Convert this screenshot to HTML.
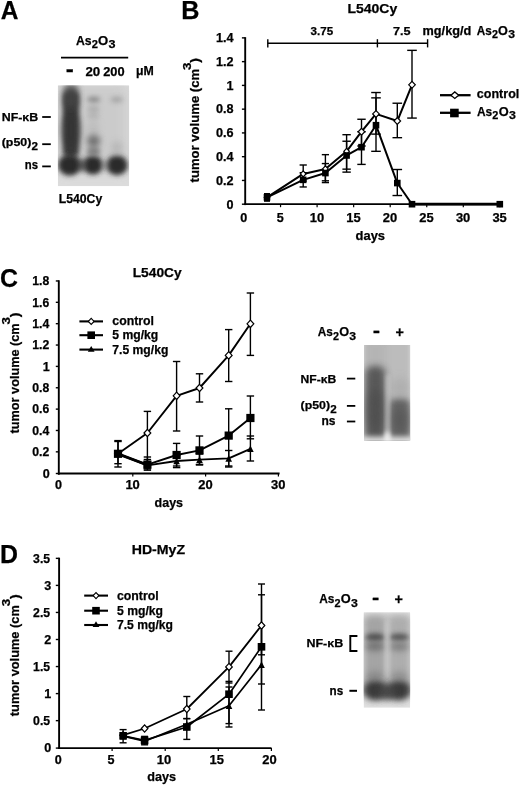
<!DOCTYPE html>
<html lang="en"><head><meta charset="utf-8"><title>Figure</title>
<style>html,body{margin:0;padding:0;background:#fff}svg{display:block;filter:grayscale(1)}text{font-family:"Liberation Sans", Arial, Helvetica, sans-serif;font-weight:bold;fill:#000;stroke:#000;stroke-width:.25px}</style></head><body>
<svg width="520" height="787" viewBox="0 0 520 787">
<rect x="0" y="0" width="520" height="787" fill="#fff"/>
<text x="0.70" y="19.20" font-size="25" text-anchor="start" textLength="17.70" lengthAdjust="spacingAndGlyphs">A</text>
<text x="76.00" y="44.80" font-size="12.5" text-anchor="start" textLength="15.58" lengthAdjust="spacingAndGlyphs">As</text>
<text x="91.68" y="47.60" font-size="11.2" text-anchor="start" textLength="6.21" lengthAdjust="spacingAndGlyphs">2</text>
<text x="98.09" y="44.80" font-size="12.5" text-anchor="start" textLength="10.18" lengthAdjust="spacingAndGlyphs">O</text>
<text x="108.58" y="47.60" font-size="11.2" text-anchor="start" textLength="7.02" lengthAdjust="spacingAndGlyphs">3</text>
<line x1="61.00" y1="57.60" x2="128.20" y2="57.60" stroke="#000" stroke-width="1.8" stroke-linecap="butt"/>
<text x="65.80" y="75.50" font-size="22" text-anchor="start" textLength="8.00" lengthAdjust="spacingAndGlyphs">-</text>
<text x="85.40" y="75.90" font-size="12.5" text-anchor="start" textLength="14.80" lengthAdjust="spacingAndGlyphs">20</text>
<text x="103.20" y="75.90" font-size="12.5" text-anchor="start" textLength="21.40" lengthAdjust="spacingAndGlyphs">200</text>
<text x="136.00" y="75.00" font-size="12.5" text-anchor="start" textLength="17.80" lengthAdjust="spacingAndGlyphs">μM</text>
<clipPath id="gc1"><rect x="57.8" y="85.3" width="71.4" height="101.0"/></clipPath>
<g clip-path="url(#gc1)">
<rect x="57.8" y="85.3" width="71.4" height="101.0" fill="#dcdcdc"/>
<filter id="gf1_0" x="-100%" y="-100%" width="300%" height="300%"><feGaussianBlur stdDeviation="6.0"/></filter>
<rect x="59.5" y="84" width="68" height="88" rx="6" fill="#c6c6c6" opacity="0.75" filter="url(#gf1_0)"/>
<filter id="gf1_1" x="-100%" y="-100%" width="300%" height="300%"><feGaussianBlur stdDeviation="2.8"/></filter>
<rect x="62.7" y="90" width="16.4" height="68" rx="7" fill="#303030" opacity="0.95" filter="url(#gf1_1)"/>
<filter id="gf1_2" x="-100%" y="-100%" width="300%" height="300%"><feGaussianBlur stdDeviation="3.0"/></filter>
<rect x="63.7" y="84" width="14.4" height="24" rx="5" fill="#444" opacity="0.8" filter="url(#gf1_2)"/>
<filter id="gf1_3" x="-100%" y="-100%" width="300%" height="300%"><feGaussianBlur stdDeviation="3.0"/></filter>
<ellipse cx="71.0" cy="130" rx="9.6" ry="18" fill="#333" opacity="0.55" filter="url(#gf1_3)"/>
<filter id="gf1_4" x="-100%" y="-100%" width="300%" height="300%"><feGaussianBlur stdDeviation="2.6"/></filter>
<ellipse cx="69.6" cy="165.0" rx="11.4" ry="10.6" fill="#2a2a2a" opacity="1.0" filter="url(#gf1_4)"/>
<filter id="gf1_5" x="-100%" y="-100%" width="300%" height="300%"><feGaussianBlur stdDeviation="2.6"/></filter>
<ellipse cx="93.0" cy="165.0" rx="9.8" ry="9.6" fill="#2c2c2c" opacity="1.0" filter="url(#gf1_5)"/>
<filter id="gf1_6" x="-100%" y="-100%" width="300%" height="300%"><feGaussianBlur stdDeviation="2.6"/></filter>
<ellipse cx="117.0" cy="165.2" rx="10.6" ry="10.0" fill="#2a2a2a" opacity="1.0" filter="url(#gf1_6)"/>
<filter id="gf1_7" x="-100%" y="-100%" width="300%" height="300%"><feGaussianBlur stdDeviation="2.6"/></filter>
<ellipse cx="82.0" cy="165.2" rx="5" ry="6.0" fill="#3a3a3a" opacity="0.7" filter="url(#gf1_7)"/>
<filter id="gf1_8" x="-100%" y="-100%" width="300%" height="300%"><feGaussianBlur stdDeviation="2.6"/></filter>
<ellipse cx="105.2" cy="165.2" rx="4" ry="4.5" fill="#666" opacity="0.45" filter="url(#gf1_8)"/>
<filter id="gf1_9" x="-100%" y="-100%" width="300%" height="300%"><feGaussianBlur stdDeviation="2.4"/></filter>
<ellipse cx="93.8" cy="99.6" rx="6.6" ry="2.8" fill="#767676" opacity="0.8" filter="url(#gf1_9)"/>
<filter id="gf1_10" x="-100%" y="-100%" width="300%" height="300%"><feGaussianBlur stdDeviation="2.8"/></filter>
<ellipse cx="93.4" cy="109.0" rx="6.2" ry="3.4" fill="#969696" opacity="0.55" filter="url(#gf1_10)"/>
<filter id="gf1_11" x="-100%" y="-100%" width="300%" height="300%"><feGaussianBlur stdDeviation="2.8"/></filter>
<ellipse cx="93.4" cy="116.0" rx="6.2" ry="3.4" fill="#9a9a9a" opacity="0.45" filter="url(#gf1_11)"/>
<filter id="gf1_12" x="-100%" y="-100%" width="300%" height="300%"><feGaussianBlur stdDeviation="3.2"/></filter>
<ellipse cx="93.4" cy="128" rx="6.0" ry="8.0" fill="#b0b0b0" opacity="0.5" filter="url(#gf1_12)"/>
<filter id="gf1_13" x="-100%" y="-100%" width="300%" height="300%"><feGaussianBlur stdDeviation="3.0"/></filter>
<ellipse cx="93.6" cy="141.0" rx="6.8" ry="6.5" fill="#5c5c5c" opacity="0.8" filter="url(#gf1_13)"/>
<filter id="gf1_14" x="-100%" y="-100%" width="300%" height="300%"><feGaussianBlur stdDeviation="2.8"/></filter>
<ellipse cx="93.6" cy="151.5" rx="6.8" ry="5.0" fill="#666" opacity="0.7" filter="url(#gf1_14)"/>
<filter id="gf1_15" x="-100%" y="-100%" width="300%" height="300%"><feGaussianBlur stdDeviation="2.4"/></filter>
<ellipse cx="116.8" cy="99.6" rx="6.2" ry="2.6" fill="#8e8e8e" opacity="0.7" filter="url(#gf1_15)"/>
<filter id="gf1_16" x="-100%" y="-100%" width="300%" height="300%"><feGaussianBlur stdDeviation="3.0"/></filter>
<ellipse cx="117.0" cy="148" rx="5.5" ry="7.0" fill="#a8a8a8" opacity="0.55" filter="url(#gf1_16)"/>
</g>
<text x="1.70" y="120.80" font-size="11.8" text-anchor="start" textLength="36.50" lengthAdjust="spacingAndGlyphs">NF-κB</text>
<line x1="42.20" y1="117.00" x2="50.80" y2="117.00" stroke="#000" stroke-width="1.8" stroke-linecap="butt"/>
<text x="1.70" y="146.20" font-size="11.8" text-anchor="start" textLength="29.60" lengthAdjust="spacingAndGlyphs">(p50)</text>
<text x="31.50" y="149.70" font-size="10.6" text-anchor="start" textLength="6.50" lengthAdjust="spacingAndGlyphs">2</text>
<line x1="42.20" y1="144.20" x2="50.80" y2="144.20" stroke="#000" stroke-width="1.8" stroke-linecap="butt"/>
<text x="24.80" y="169.00" font-size="12.0" text-anchor="start" textLength="13.20" lengthAdjust="spacingAndGlyphs">ns</text>
<line x1="42.20" y1="166.40" x2="50.80" y2="166.40" stroke="#000" stroke-width="1.8" stroke-linecap="butt"/>
<text x="58.70" y="202.50" font-size="12.3" text-anchor="start" textLength="43.50" lengthAdjust="spacingAndGlyphs">L540Cy</text>
<text x="181.20" y="18.60" font-size="25" text-anchor="start" textLength="18.20" lengthAdjust="spacingAndGlyphs">B</text>
<text x="347.40" y="12.90" font-size="13.5" text-anchor="start" textLength="49.80" lengthAdjust="spacingAndGlyphs">L540Cy</text>
<line x1="245.20" y1="37.18" x2="245.20" y2="205.10" stroke="#000" stroke-width="1.9" stroke-linecap="butt"/>
<line x1="244.30" y1="204.20" x2="500.30" y2="204.20" stroke="#000" stroke-width="1.8" stroke-linecap="butt"/>
<line x1="241.90" y1="204.20" x2="245.20" y2="204.20" stroke="#000" stroke-width="1.4" stroke-linecap="butt"/>
<text x="226.60" y="208.50" font-size="12.2" text-anchor="start" textLength="7.00" lengthAdjust="spacingAndGlyphs">0</text>
<line x1="241.90" y1="180.44" x2="245.20" y2="180.44" stroke="#000" stroke-width="1.4" stroke-linecap="butt"/>
<text x="216.00" y="184.74" font-size="12.2" text-anchor="start" textLength="17.60" lengthAdjust="spacingAndGlyphs">0.2</text>
<line x1="241.90" y1="156.68" x2="245.20" y2="156.68" stroke="#000" stroke-width="1.4" stroke-linecap="butt"/>
<text x="216.00" y="160.98" font-size="12.2" text-anchor="start" textLength="17.60" lengthAdjust="spacingAndGlyphs">0.4</text>
<line x1="241.90" y1="132.92" x2="245.20" y2="132.92" stroke="#000" stroke-width="1.4" stroke-linecap="butt"/>
<text x="216.00" y="137.22" font-size="12.2" text-anchor="start" textLength="17.60" lengthAdjust="spacingAndGlyphs">0.6</text>
<line x1="241.90" y1="109.16" x2="245.20" y2="109.16" stroke="#000" stroke-width="1.4" stroke-linecap="butt"/>
<text x="216.00" y="113.46" font-size="12.2" text-anchor="start" textLength="17.60" lengthAdjust="spacingAndGlyphs">0.8</text>
<line x1="241.90" y1="85.40" x2="245.20" y2="85.40" stroke="#000" stroke-width="1.4" stroke-linecap="butt"/>
<text x="226.60" y="89.70" font-size="12.2" text-anchor="start" textLength="7.00" lengthAdjust="spacingAndGlyphs">1</text>
<line x1="241.90" y1="61.64" x2="245.20" y2="61.64" stroke="#000" stroke-width="1.4" stroke-linecap="butt"/>
<text x="216.00" y="65.94" font-size="12.2" text-anchor="start" textLength="17.60" lengthAdjust="spacingAndGlyphs">1.2</text>
<line x1="241.90" y1="37.88" x2="245.20" y2="37.88" stroke="#000" stroke-width="1.4" stroke-linecap="butt"/>
<text x="216.00" y="42.18" font-size="12.2" text-anchor="start" textLength="17.60" lengthAdjust="spacingAndGlyphs">1.4</text>
<text x="240.30" y="221.60" font-size="12.2" text-anchor="start" textLength="7.00" lengthAdjust="spacingAndGlyphs">0</text>
<text x="276.85" y="221.60" font-size="12.2" text-anchor="start" textLength="7.00" lengthAdjust="spacingAndGlyphs">5</text>
<line x1="280.55" y1="204.20" x2="280.55" y2="207.20" stroke="#000" stroke-width="1.2" stroke-linecap="butt"/>
<text x="309.70" y="221.60" font-size="12.2" text-anchor="start" textLength="14.40" lengthAdjust="spacingAndGlyphs">10</text>
<line x1="317.10" y1="204.20" x2="317.10" y2="207.20" stroke="#000" stroke-width="1.2" stroke-linecap="butt"/>
<text x="346.25" y="221.60" font-size="12.2" text-anchor="start" textLength="14.40" lengthAdjust="spacingAndGlyphs">15</text>
<line x1="353.65" y1="204.20" x2="353.65" y2="207.20" stroke="#000" stroke-width="1.2" stroke-linecap="butt"/>
<text x="382.80" y="221.60" font-size="12.2" text-anchor="start" textLength="14.40" lengthAdjust="spacingAndGlyphs">20</text>
<line x1="390.20" y1="204.20" x2="390.20" y2="207.20" stroke="#000" stroke-width="1.2" stroke-linecap="butt"/>
<text x="419.35" y="221.60" font-size="12.2" text-anchor="start" textLength="14.40" lengthAdjust="spacingAndGlyphs">25</text>
<line x1="426.75" y1="204.20" x2="426.75" y2="207.20" stroke="#000" stroke-width="1.2" stroke-linecap="butt"/>
<text x="455.90" y="221.60" font-size="12.2" text-anchor="start" textLength="14.40" lengthAdjust="spacingAndGlyphs">30</text>
<line x1="463.30" y1="204.20" x2="463.30" y2="207.20" stroke="#000" stroke-width="1.2" stroke-linecap="butt"/>
<text x="492.40" y="221.60" font-size="12.2" text-anchor="start" textLength="14.40" lengthAdjust="spacingAndGlyphs">35</text>
<line x1="499.80" y1="204.20" x2="499.80" y2="207.20" stroke="#000" stroke-width="1.2" stroke-linecap="butt"/>
<text x="355.60" y="239.60" font-size="12.5" text-anchor="start" textLength="29.40" lengthAdjust="spacingAndGlyphs">days</text>
<g transform="translate(199.4,182.4) rotate(-90)">
<text x="0.00" y="0.00" font-size="12.8" text-anchor="start" textLength="113.50" lengthAdjust="spacingAndGlyphs">tumor volume (cm</text>
<text x="112.40" y="-8.60" font-size="10" text-anchor="start" textLength="7.40" lengthAdjust="spacingAndGlyphs">3</text>
<text x="119.70" y="0.00" font-size="12.8" text-anchor="start" textLength="4.70" lengthAdjust="spacingAndGlyphs">)</text>
</g>
<line x1="267.60" y1="43.30" x2="427.70" y2="43.30" stroke="#000" stroke-width="1.5" stroke-linecap="butt"/>
<line x1="267.80" y1="39.20" x2="267.80" y2="47.40" stroke="#000" stroke-width="1.4" stroke-linecap="butt"/>
<line x1="377.40" y1="39.20" x2="377.40" y2="47.40" stroke="#000" stroke-width="1.4" stroke-linecap="butt"/>
<line x1="427.60" y1="39.20" x2="427.60" y2="47.40" stroke="#000" stroke-width="1.4" stroke-linecap="butt"/>
<text x="310.60" y="34.70" font-size="11.6" text-anchor="start" textLength="22.60" lengthAdjust="spacingAndGlyphs">3.75</text>
<text x="393.00" y="34.70" font-size="11.6" text-anchor="start" textLength="17.60" lengthAdjust="spacingAndGlyphs">7.5</text>
<text x="422.60" y="34.70" font-size="12.0" text-anchor="start" textLength="48.60" lengthAdjust="spacingAndGlyphs">mg/kg/d</text>
<text x="476.80" y="34.70" font-size="12.2" text-anchor="start" textLength="15.02" lengthAdjust="spacingAndGlyphs">As</text>
<text x="491.92" y="37.50" font-size="11.2" text-anchor="start" textLength="5.99" lengthAdjust="spacingAndGlyphs">2</text>
<text x="498.11" y="34.70" font-size="12.2" text-anchor="start" textLength="9.82" lengthAdjust="spacingAndGlyphs">O</text>
<text x="508.22" y="37.50" font-size="11.2" text-anchor="start" textLength="6.78" lengthAdjust="spacingAndGlyphs">3</text>
<line x1="267.00" y1="193.75" x2="267.00" y2="200.87" stroke="#000" stroke-width="1.4" stroke-linecap="butt"/>
<line x1="264.00" y1="193.75" x2="270.00" y2="193.75" stroke="#000" stroke-width="1.4" stroke-linecap="butt"/>
<line x1="264.00" y1="200.87" x2="270.00" y2="200.87" stroke="#000" stroke-width="1.4" stroke-linecap="butt"/>
<line x1="303.20" y1="165.00" x2="303.20" y2="181.03" stroke="#000" stroke-width="1.4" stroke-linecap="butt"/>
<line x1="299.60" y1="165.00" x2="306.80" y2="165.00" stroke="#000" stroke-width="1.4" stroke-linecap="butt"/>
<line x1="299.60" y1="181.03" x2="306.80" y2="181.03" stroke="#000" stroke-width="1.4" stroke-linecap="butt"/>
<line x1="325.40" y1="154.66" x2="325.40" y2="180.80" stroke="#000" stroke-width="1.4" stroke-linecap="butt"/>
<line x1="321.80" y1="154.66" x2="329.00" y2="154.66" stroke="#000" stroke-width="1.4" stroke-linecap="butt"/>
<line x1="321.80" y1="180.80" x2="329.00" y2="180.80" stroke="#000" stroke-width="1.4" stroke-linecap="butt"/>
<line x1="346.60" y1="134.70" x2="346.60" y2="169.15" stroke="#000" stroke-width="1.4" stroke-linecap="butt"/>
<line x1="342.40" y1="134.70" x2="350.80" y2="134.70" stroke="#000" stroke-width="1.4" stroke-linecap="butt"/>
<line x1="342.40" y1="169.15" x2="350.80" y2="169.15" stroke="#000" stroke-width="1.4" stroke-linecap="butt"/>
<line x1="361.50" y1="119.26" x2="361.50" y2="145.99" stroke="#000" stroke-width="1.4" stroke-linecap="butt"/>
<line x1="357.30" y1="119.26" x2="365.70" y2="119.26" stroke="#000" stroke-width="1.4" stroke-linecap="butt"/>
<line x1="357.30" y1="145.99" x2="365.70" y2="145.99" stroke="#000" stroke-width="1.4" stroke-linecap="butt"/>
<line x1="376.00" y1="92.53" x2="376.00" y2="134.11" stroke="#000" stroke-width="1.4" stroke-linecap="butt"/>
<line x1="371.20" y1="92.53" x2="380.80" y2="92.53" stroke="#000" stroke-width="1.4" stroke-linecap="butt"/>
<line x1="371.20" y1="134.11" x2="380.80" y2="134.11" stroke="#000" stroke-width="1.4" stroke-linecap="butt"/>
<line x1="397.30" y1="103.22" x2="397.30" y2="137.67" stroke="#000" stroke-width="1.4" stroke-linecap="butt"/>
<line x1="392.50" y1="103.22" x2="402.10" y2="103.22" stroke="#000" stroke-width="1.4" stroke-linecap="butt"/>
<line x1="392.50" y1="137.67" x2="402.10" y2="137.67" stroke="#000" stroke-width="1.4" stroke-linecap="butt"/>
<line x1="412.00" y1="50.35" x2="412.00" y2="118.07" stroke="#000" stroke-width="1.4" stroke-linecap="butt"/>
<line x1="407.20" y1="50.35" x2="416.80" y2="50.35" stroke="#000" stroke-width="1.4" stroke-linecap="butt"/>
<line x1="407.20" y1="118.07" x2="416.80" y2="118.07" stroke="#000" stroke-width="1.4" stroke-linecap="butt"/>
<line x1="267.00" y1="193.75" x2="267.00" y2="200.87" stroke="#000" stroke-width="1.4" stroke-linecap="butt"/>
<line x1="264.00" y1="193.75" x2="270.00" y2="193.75" stroke="#000" stroke-width="1.4" stroke-linecap="butt"/>
<line x1="264.00" y1="200.87" x2="270.00" y2="200.87" stroke="#000" stroke-width="1.4" stroke-linecap="butt"/>
<line x1="303.20" y1="172.72" x2="303.20" y2="186.97" stroke="#000" stroke-width="1.4" stroke-linecap="butt"/>
<line x1="299.60" y1="172.72" x2="306.80" y2="172.72" stroke="#000" stroke-width="1.4" stroke-linecap="butt"/>
<line x1="299.60" y1="186.97" x2="306.80" y2="186.97" stroke="#000" stroke-width="1.4" stroke-linecap="butt"/>
<line x1="325.40" y1="163.57" x2="325.40" y2="182.58" stroke="#000" stroke-width="1.4" stroke-linecap="butt"/>
<line x1="321.80" y1="163.57" x2="329.00" y2="163.57" stroke="#000" stroke-width="1.4" stroke-linecap="butt"/>
<line x1="321.80" y1="182.58" x2="329.00" y2="182.58" stroke="#000" stroke-width="1.4" stroke-linecap="butt"/>
<line x1="346.60" y1="141.24" x2="346.60" y2="172.12" stroke="#000" stroke-width="1.4" stroke-linecap="butt"/>
<line x1="342.40" y1="141.24" x2="350.80" y2="141.24" stroke="#000" stroke-width="1.4" stroke-linecap="butt"/>
<line x1="342.40" y1="172.12" x2="350.80" y2="172.12" stroke="#000" stroke-width="1.4" stroke-linecap="butt"/>
<line x1="361.50" y1="131.73" x2="361.50" y2="164.40" stroke="#000" stroke-width="1.4" stroke-linecap="butt"/>
<line x1="357.30" y1="131.73" x2="365.70" y2="131.73" stroke="#000" stroke-width="1.4" stroke-linecap="butt"/>
<line x1="357.30" y1="164.40" x2="365.70" y2="164.40" stroke="#000" stroke-width="1.4" stroke-linecap="butt"/>
<line x1="376.00" y1="97.87" x2="376.00" y2="151.33" stroke="#000" stroke-width="1.4" stroke-linecap="butt"/>
<line x1="371.20" y1="97.87" x2="380.80" y2="97.87" stroke="#000" stroke-width="1.4" stroke-linecap="butt"/>
<line x1="371.20" y1="151.33" x2="380.80" y2="151.33" stroke="#000" stroke-width="1.4" stroke-linecap="butt"/>
<line x1="397.30" y1="169.51" x2="397.30" y2="195.53" stroke="#000" stroke-width="1.4" stroke-linecap="butt"/>
<line x1="392.50" y1="169.51" x2="402.10" y2="169.51" stroke="#000" stroke-width="1.4" stroke-linecap="butt"/>
<line x1="392.50" y1="195.53" x2="402.10" y2="195.53" stroke="#000" stroke-width="1.4" stroke-linecap="butt"/>
<polyline points="267.00,197.31 303.20,173.91 325.40,168.92 346.60,151.33 361.50,131.73 376.00,113.91 397.30,121.04 412.00,84.81" fill="none" stroke="#000" stroke-width="2.0" stroke-linejoin="round"/>
<polyline points="267.00,197.31 303.20,179.85 325.40,173.07 346.60,155.49 361.50,147.18 376.00,125.20 397.30,183.05 412.00,204.20 499.80,204.20" fill="none" stroke="#000" stroke-width="2.0" stroke-linejoin="round"/>
<line x1="412.00" y1="204.20" x2="499.80" y2="204.20" stroke="#000" stroke-width="2.8" stroke-linecap="butt"/>
<polygon points="264.20,197.31 267.00,194.31 269.80,197.31 267.00,200.31" fill="#fff" stroke="#000" stroke-width="1.2"/>
<polygon points="300.40,173.91 303.20,170.91 306.00,173.91 303.20,176.91" fill="#fff" stroke="#000" stroke-width="1.2"/>
<polygon points="322.60,168.92 325.40,165.92 328.20,168.92 325.40,171.92" fill="#fff" stroke="#000" stroke-width="1.2"/>
<polygon points="343.80,151.33 346.60,148.33 349.40,151.33 346.60,154.33" fill="#fff" stroke="#000" stroke-width="1.2"/>
<polygon points="358.20,131.73 361.50,128.33 364.80,131.73 361.50,135.13" fill="#fff" stroke="#000" stroke-width="1.2"/>
<polygon points="372.70,113.91 376.00,110.51 379.30,113.91 376.00,117.31" fill="#fff" stroke="#000" stroke-width="1.2"/>
<polygon points="394.00,121.04 397.30,117.64 400.60,121.04 397.30,124.44" fill="#fff" stroke="#000" stroke-width="1.2"/>
<polygon points="408.70,84.81 412.00,81.41 415.30,84.81 412.00,88.21" fill="#fff" stroke="#000" stroke-width="1.2"/>
<rect x="263.70" y="194.01" width="6.6" height="6.6" fill="#000"/>
<rect x="299.90" y="176.55" width="6.6" height="6.6" fill="#000"/>
<rect x="322.10" y="169.77" width="6.6" height="6.6" fill="#000"/>
<rect x="343.30" y="152.19" width="6.6" height="6.6" fill="#000"/>
<rect x="358.20" y="143.88" width="6.6" height="6.6" fill="#000"/>
<rect x="372.70" y="121.90" width="6.6" height="6.6" fill="#000"/>
<rect x="394.00" y="179.75" width="6.6" height="6.6" fill="#000"/>
<rect x="408.70" y="200.90" width="6.6" height="6.6" fill="#000"/>
<rect x="496.50" y="200.90" width="6.6" height="6.6" fill="#000"/>
<line x1="440.00" y1="95.20" x2="470.60" y2="95.20" stroke="#000" stroke-width="2.3" stroke-linecap="butt"/>
<polygon points="450.90,95.20 454.80,91.90 458.70,95.20 454.80,98.50" fill="#fff" stroke="#000" stroke-width="1.3"/>
<text x="476.80" y="98.30" font-size="12.8" text-anchor="start" textLength="42.50" lengthAdjust="spacingAndGlyphs">control</text>
<line x1="440.00" y1="112.80" x2="470.60" y2="112.80" stroke="#000" stroke-width="2.3" stroke-linecap="butt"/>
<rect x="450.10" y="108.70" width="8.6" height="8.6" fill="#000"/>
<text x="477.00" y="116.40" font-size="13.0" text-anchor="start" textLength="15.26" lengthAdjust="spacingAndGlyphs">As</text>
<text x="492.36" y="119.20" font-size="11.2" text-anchor="start" textLength="6.08" lengthAdjust="spacingAndGlyphs">2</text>
<text x="498.64" y="116.40" font-size="13.0" text-anchor="start" textLength="9.97" lengthAdjust="spacingAndGlyphs">O</text>
<text x="508.92" y="119.20" font-size="11.2" text-anchor="start" textLength="6.88" lengthAdjust="spacingAndGlyphs">3</text>
<text x="0.10" y="286.70" font-size="25" text-anchor="start" textLength="18.00" lengthAdjust="spacingAndGlyphs">C</text>
<text x="132.70" y="277.40" font-size="13.6" text-anchor="start" textLength="49.00" lengthAdjust="spacingAndGlyphs">L540Cy</text>
<line x1="58.80" y1="280.26" x2="58.80" y2="474.70" stroke="#000" stroke-width="1.9" stroke-linecap="butt"/>
<line x1="57.90" y1="473.50" x2="279.60" y2="473.50" stroke="#000" stroke-width="1.8" stroke-linecap="butt"/>
<line x1="55.80" y1="473.50" x2="58.80" y2="473.50" stroke="#000" stroke-width="1.4" stroke-linecap="butt"/>
<text x="42.80" y="477.90" font-size="12" text-anchor="start" textLength="7.00" lengthAdjust="spacingAndGlyphs">0</text>
<line x1="55.80" y1="451.84" x2="58.80" y2="451.84" stroke="#000" stroke-width="1.4" stroke-linecap="butt"/>
<text x="32.20" y="456.14" font-size="12" text-anchor="start" textLength="17.00" lengthAdjust="spacingAndGlyphs">0.2</text>
<line x1="55.80" y1="430.48" x2="58.80" y2="430.48" stroke="#000" stroke-width="1.4" stroke-linecap="butt"/>
<text x="32.20" y="434.78" font-size="12" text-anchor="start" textLength="17.00" lengthAdjust="spacingAndGlyphs">0.4</text>
<line x1="55.80" y1="409.12" x2="58.80" y2="409.12" stroke="#000" stroke-width="1.4" stroke-linecap="butt"/>
<text x="32.20" y="413.42" font-size="12" text-anchor="start" textLength="17.00" lengthAdjust="spacingAndGlyphs">0.6</text>
<line x1="55.80" y1="387.76" x2="58.80" y2="387.76" stroke="#000" stroke-width="1.4" stroke-linecap="butt"/>
<text x="32.20" y="392.06" font-size="12" text-anchor="start" textLength="17.00" lengthAdjust="spacingAndGlyphs">0.8</text>
<line x1="55.80" y1="366.40" x2="58.80" y2="366.40" stroke="#000" stroke-width="1.4" stroke-linecap="butt"/>
<text x="42.80" y="370.70" font-size="12" text-anchor="start" textLength="7.00" lengthAdjust="spacingAndGlyphs">1</text>
<line x1="55.80" y1="345.04" x2="58.80" y2="345.04" stroke="#000" stroke-width="1.4" stroke-linecap="butt"/>
<text x="32.20" y="349.34" font-size="12" text-anchor="start" textLength="17.00" lengthAdjust="spacingAndGlyphs">1.2</text>
<line x1="55.80" y1="323.68" x2="58.80" y2="323.68" stroke="#000" stroke-width="1.4" stroke-linecap="butt"/>
<text x="32.20" y="327.98" font-size="12" text-anchor="start" textLength="17.00" lengthAdjust="spacingAndGlyphs">1.4</text>
<line x1="55.80" y1="302.32" x2="58.80" y2="302.32" stroke="#000" stroke-width="1.4" stroke-linecap="butt"/>
<text x="32.20" y="306.62" font-size="12" text-anchor="start" textLength="17.00" lengthAdjust="spacingAndGlyphs">1.6</text>
<line x1="55.80" y1="280.96" x2="58.80" y2="280.96" stroke="#000" stroke-width="1.4" stroke-linecap="butt"/>
<text x="32.20" y="285.26" font-size="12" text-anchor="start" textLength="17.00" lengthAdjust="spacingAndGlyphs">1.8</text>
<text x="55.10" y="488.80" font-size="12" text-anchor="start" textLength="7.00" lengthAdjust="spacingAndGlyphs">0</text>
<text x="125.40" y="488.80" font-size="12" text-anchor="start" textLength="14.40" lengthAdjust="spacingAndGlyphs">10</text>
<line x1="132.80" y1="473.50" x2="132.80" y2="476.50" stroke="#000" stroke-width="1.2" stroke-linecap="butt"/>
<text x="198.20" y="488.80" font-size="12" text-anchor="start" textLength="14.40" lengthAdjust="spacingAndGlyphs">20</text>
<line x1="205.60" y1="473.50" x2="205.60" y2="476.50" stroke="#000" stroke-width="1.2" stroke-linecap="butt"/>
<text x="271.00" y="488.80" font-size="12" text-anchor="start" textLength="14.40" lengthAdjust="spacingAndGlyphs">30</text>
<line x1="278.40" y1="473.50" x2="278.40" y2="476.50" stroke="#000" stroke-width="1.2" stroke-linecap="butt"/>
<text x="154.60" y="507.20" font-size="12.5" text-anchor="start" textLength="28.40" lengthAdjust="spacingAndGlyphs">days</text>
<g transform="translate(18.7,433.4) rotate(-90)">
<text x="0.00" y="0.00" font-size="12.8" text-anchor="start" textLength="110.00" lengthAdjust="spacingAndGlyphs">tumor volume (cm</text>
<text x="109.00" y="-8.40" font-size="10" text-anchor="start" textLength="7.40" lengthAdjust="spacingAndGlyphs">3</text>
<text x="116.20" y="0.00" font-size="12.8" text-anchor="start" textLength="4.70" lengthAdjust="spacingAndGlyphs">)</text>
</g>
<line x1="147.40" y1="411.40" x2="147.40" y2="462.00" stroke="#000" stroke-width="1.4" stroke-linecap="butt"/>
<line x1="143.70" y1="411.40" x2="151.10" y2="411.40" stroke="#000" stroke-width="1.4" stroke-linecap="butt"/>
<line x1="143.70" y1="462.00" x2="151.10" y2="462.00" stroke="#000" stroke-width="1.4" stroke-linecap="butt"/>
<line x1="176.60" y1="361.50" x2="176.60" y2="431.00" stroke="#000" stroke-width="1.4" stroke-linecap="butt"/>
<line x1="172.90" y1="361.50" x2="180.30" y2="361.50" stroke="#000" stroke-width="1.4" stroke-linecap="butt"/>
<line x1="172.90" y1="431.00" x2="180.30" y2="431.00" stroke="#000" stroke-width="1.4" stroke-linecap="butt"/>
<line x1="199.50" y1="373.80" x2="199.50" y2="402.00" stroke="#000" stroke-width="1.4" stroke-linecap="butt"/>
<line x1="195.80" y1="373.80" x2="203.20" y2="373.80" stroke="#000" stroke-width="1.4" stroke-linecap="butt"/>
<line x1="195.80" y1="402.00" x2="203.20" y2="402.00" stroke="#000" stroke-width="1.4" stroke-linecap="butt"/>
<line x1="228.70" y1="329.60" x2="228.70" y2="381.50" stroke="#000" stroke-width="1.4" stroke-linecap="butt"/>
<line x1="225.00" y1="329.60" x2="232.40" y2="329.60" stroke="#000" stroke-width="1.4" stroke-linecap="butt"/>
<line x1="225.00" y1="381.50" x2="232.40" y2="381.50" stroke="#000" stroke-width="1.4" stroke-linecap="butt"/>
<line x1="250.40" y1="293.00" x2="250.40" y2="355.40" stroke="#000" stroke-width="1.4" stroke-linecap="butt"/>
<line x1="246.70" y1="293.00" x2="254.10" y2="293.00" stroke="#000" stroke-width="1.4" stroke-linecap="butt"/>
<line x1="246.70" y1="355.40" x2="254.10" y2="355.40" stroke="#000" stroke-width="1.4" stroke-linecap="butt"/>
<line x1="118.00" y1="440.60" x2="118.00" y2="467.00" stroke="#000" stroke-width="1.4" stroke-linecap="butt"/>
<line x1="114.30" y1="440.60" x2="121.70" y2="440.60" stroke="#000" stroke-width="1.4" stroke-linecap="butt"/>
<line x1="114.30" y1="467.00" x2="121.70" y2="467.00" stroke="#000" stroke-width="1.4" stroke-linecap="butt"/>
<line x1="147.40" y1="457.00" x2="147.40" y2="470.20" stroke="#000" stroke-width="1.4" stroke-linecap="butt"/>
<line x1="143.70" y1="457.00" x2="151.10" y2="457.00" stroke="#000" stroke-width="1.4" stroke-linecap="butt"/>
<line x1="143.70" y1="470.20" x2="151.10" y2="470.20" stroke="#000" stroke-width="1.4" stroke-linecap="butt"/>
<line x1="176.60" y1="443.40" x2="176.60" y2="467.60" stroke="#000" stroke-width="1.4" stroke-linecap="butt"/>
<line x1="172.90" y1="443.40" x2="180.30" y2="443.40" stroke="#000" stroke-width="1.4" stroke-linecap="butt"/>
<line x1="172.90" y1="467.60" x2="180.30" y2="467.60" stroke="#000" stroke-width="1.4" stroke-linecap="butt"/>
<line x1="199.50" y1="436.00" x2="199.50" y2="464.40" stroke="#000" stroke-width="1.4" stroke-linecap="butt"/>
<line x1="195.80" y1="436.00" x2="203.20" y2="436.00" stroke="#000" stroke-width="1.4" stroke-linecap="butt"/>
<line x1="195.80" y1="464.40" x2="203.20" y2="464.40" stroke="#000" stroke-width="1.4" stroke-linecap="butt"/>
<line x1="228.70" y1="408.80" x2="228.70" y2="467.00" stroke="#000" stroke-width="1.4" stroke-linecap="butt"/>
<line x1="225.00" y1="408.80" x2="232.40" y2="408.80" stroke="#000" stroke-width="1.4" stroke-linecap="butt"/>
<line x1="225.00" y1="467.00" x2="232.40" y2="467.00" stroke="#000" stroke-width="1.4" stroke-linecap="butt"/>
<line x1="250.40" y1="396.00" x2="250.40" y2="438.80" stroke="#000" stroke-width="1.4" stroke-linecap="butt"/>
<line x1="246.70" y1="396.00" x2="254.10" y2="396.00" stroke="#000" stroke-width="1.4" stroke-linecap="butt"/>
<line x1="246.70" y1="438.80" x2="254.10" y2="438.80" stroke="#000" stroke-width="1.4" stroke-linecap="butt"/>
<line x1="118.00" y1="441.50" x2="118.00" y2="463.70" stroke="#000" stroke-width="1.4" stroke-linecap="butt"/>
<line x1="114.30" y1="441.50" x2="121.70" y2="441.50" stroke="#000" stroke-width="1.4" stroke-linecap="butt"/>
<line x1="114.30" y1="463.70" x2="121.70" y2="463.70" stroke="#000" stroke-width="1.4" stroke-linecap="butt"/>
<line x1="147.40" y1="459.50" x2="147.40" y2="469.00" stroke="#000" stroke-width="1.4" stroke-linecap="butt"/>
<line x1="143.70" y1="459.50" x2="151.10" y2="459.50" stroke="#000" stroke-width="1.4" stroke-linecap="butt"/>
<line x1="143.70" y1="469.00" x2="151.10" y2="469.00" stroke="#000" stroke-width="1.4" stroke-linecap="butt"/>
<line x1="176.60" y1="455.50" x2="176.60" y2="466.00" stroke="#000" stroke-width="1.4" stroke-linecap="butt"/>
<line x1="172.90" y1="455.50" x2="180.30" y2="455.50" stroke="#000" stroke-width="1.4" stroke-linecap="butt"/>
<line x1="172.90" y1="466.00" x2="180.30" y2="466.00" stroke="#000" stroke-width="1.4" stroke-linecap="butt"/>
<line x1="199.50" y1="454.00" x2="199.50" y2="465.00" stroke="#000" stroke-width="1.4" stroke-linecap="butt"/>
<line x1="195.80" y1="454.00" x2="203.20" y2="454.00" stroke="#000" stroke-width="1.4" stroke-linecap="butt"/>
<line x1="195.80" y1="465.00" x2="203.20" y2="465.00" stroke="#000" stroke-width="1.4" stroke-linecap="butt"/>
<line x1="228.70" y1="450.50" x2="228.70" y2="466.00" stroke="#000" stroke-width="1.4" stroke-linecap="butt"/>
<line x1="225.00" y1="450.50" x2="232.40" y2="450.50" stroke="#000" stroke-width="1.4" stroke-linecap="butt"/>
<line x1="225.00" y1="466.00" x2="232.40" y2="466.00" stroke="#000" stroke-width="1.4" stroke-linecap="butt"/>
<line x1="250.40" y1="436.00" x2="250.40" y2="461.00" stroke="#000" stroke-width="1.4" stroke-linecap="butt"/>
<line x1="246.70" y1="436.00" x2="254.10" y2="436.00" stroke="#000" stroke-width="1.4" stroke-linecap="butt"/>
<line x1="246.70" y1="461.00" x2="254.10" y2="461.00" stroke="#000" stroke-width="1.4" stroke-linecap="butt"/>
<polyline points="118.00,453.80 147.40,433.00 176.60,395.80 199.50,388.00 228.70,355.40 250.40,323.80" fill="none" stroke="#000" stroke-width="1.9" stroke-linejoin="round"/>
<polyline points="118.00,453.80 147.40,465.40 176.60,461.00 199.50,459.60 228.70,458.40 250.40,448.80" fill="none" stroke="#000" stroke-width="1.9" stroke-linejoin="round"/>
<polyline points="118.00,453.80 147.40,464.60 176.60,455.00 199.50,450.40 228.70,435.60 250.40,418.00" fill="none" stroke="#000" stroke-width="1.9" stroke-linejoin="round"/>
<line x1="118.00" y1="453.80" x2="147.40" y2="465.00" stroke="#000" stroke-width="2.9" stroke-linecap="butt"/>
<polygon points="114.60,453.80 118.00,450.10 121.40,453.80 118.00,457.50" fill="#fff" stroke="#000" stroke-width="1.2"/>
<polygon points="144.00,433.00 147.40,429.30 150.80,433.00 147.40,436.70" fill="#fff" stroke="#000" stroke-width="1.2"/>
<polygon points="173.20,395.80 176.60,392.10 180.00,395.80 176.60,399.50" fill="#fff" stroke="#000" stroke-width="1.2"/>
<polygon points="196.10,388.00 199.50,384.30 202.90,388.00 199.50,391.70" fill="#fff" stroke="#000" stroke-width="1.2"/>
<polygon points="225.30,355.40 228.70,351.70 232.10,355.40 228.70,359.10" fill="#fff" stroke="#000" stroke-width="1.2"/>
<polygon points="247.00,323.80 250.40,320.10 253.80,323.80 250.40,327.50" fill="#fff" stroke="#000" stroke-width="1.2"/>
<polygon points="114.70,457.10 121.30,457.10 118.00,450.50" fill="#000"/>
<polygon points="144.10,468.70 150.70,468.70 147.40,462.10" fill="#000"/>
<polygon points="173.30,464.30 179.90,464.30 176.60,457.70" fill="#000"/>
<polygon points="196.20,462.90 202.80,462.90 199.50,456.30" fill="#000"/>
<polygon points="225.40,461.70 232.00,461.70 228.70,455.10" fill="#000"/>
<polygon points="247.10,452.10 253.70,452.10 250.40,445.50" fill="#000"/>
<rect x="113.90" y="449.70" width="8.2" height="8.2" fill="#000"/>
<rect x="143.30" y="460.50" width="8.2" height="8.2" fill="#000"/>
<rect x="172.50" y="450.90" width="8.2" height="8.2" fill="#000"/>
<rect x="195.40" y="446.30" width="8.2" height="8.2" fill="#000"/>
<rect x="224.60" y="431.50" width="8.2" height="8.2" fill="#000"/>
<rect x="246.30" y="413.90" width="8.2" height="8.2" fill="#000"/>
<line x1="79.40" y1="321.40" x2="103.00" y2="321.40" stroke="#000" stroke-width="2.1" stroke-linecap="butt"/>
<polygon points="88.30,321.40 91.20,318.30 94.10,321.40 91.20,324.50" fill="#fff" stroke="#000" stroke-width="1.1"/>
<text x="112.30" y="325.20" font-size="12.8" text-anchor="start" textLength="41.70" lengthAdjust="spacingAndGlyphs">control</text>
<line x1="79.40" y1="335.20" x2="103.00" y2="335.20" stroke="#000" stroke-width="2.1" stroke-linecap="butt"/>
<rect x="87.40" y="331.40" width="7.6" height="7.6" fill="#000"/>
<text x="112.30" y="339.30" font-size="12.8" text-anchor="start" textLength="46.00" lengthAdjust="spacingAndGlyphs">5 mg/kg</text>
<line x1="79.40" y1="349.60" x2="103.00" y2="349.60" stroke="#000" stroke-width="2.1" stroke-linecap="butt"/>
<polygon points="87.80,351.70 94.60,351.70 91.20,345.90" fill="#000"/>
<text x="112.30" y="353.60" font-size="12.8" text-anchor="start" textLength="56.00" lengthAdjust="spacingAndGlyphs">7.5 mg/kg</text>
<text x="317.80" y="336.00" font-size="12.4" text-anchor="start" textLength="15.10" lengthAdjust="spacingAndGlyphs">As</text>
<text x="333.00" y="339.60" font-size="11.2" text-anchor="start" textLength="6.02" lengthAdjust="spacingAndGlyphs">2</text>
<text x="339.22" y="336.00" font-size="12.4" text-anchor="start" textLength="9.87" lengthAdjust="spacingAndGlyphs">O</text>
<text x="349.39" y="339.60" font-size="11.2" text-anchor="start" textLength="6.81" lengthAdjust="spacingAndGlyphs">3</text>
<text x="372.80" y="337.30" font-size="19" text-anchor="start" textLength="7.30" lengthAdjust="spacingAndGlyphs">-</text>
<text x="395.60" y="337.10" font-size="15" text-anchor="start" textLength="8.40" lengthAdjust="spacingAndGlyphs">+</text>
<clipPath id="gc2"><rect x="364.0" y="345" width="46.2" height="95.4"/></clipPath>
<g clip-path="url(#gc2)">
<rect x="364.0" y="345" width="46.2" height="95.4" fill="#e6e6e6"/>
<filter id="gf2_0" x="-100%" y="-100%" width="300%" height="300%"><feGaussianBlur stdDeviation="2.6"/></filter>
<rect x="363.9" y="340" width="47.0" height="104" rx="3" fill="#bababa" opacity="0.95" filter="url(#gf2_0)"/>
<filter id="gf2_1" x="-100%" y="-100%" width="300%" height="300%"><feGaussianBlur stdDeviation="3.0"/></filter>
<rect x="365.0" y="340" width="20.8" height="104" rx="3" fill="#b0b0b0" opacity="0.6" filter="url(#gf2_1)"/>
<filter id="gf2_2" x="-100%" y="-100%" width="300%" height="300%"><feGaussianBlur stdDeviation="3.6"/></filter>
<rect x="365.4" y="366" width="20.0" height="84" rx="8" fill="#545454" opacity="0.95" filter="url(#gf2_2)"/>
<filter id="gf2_3" x="-100%" y="-100%" width="300%" height="300%"><feGaussianBlur stdDeviation="4.0"/></filter>
<ellipse cx="375.4" cy="410" rx="9.0" ry="22" fill="#484848" opacity="0.5" filter="url(#gf2_3)"/>
<filter id="gf2_4" x="-100%" y="-100%" width="300%" height="300%"><feGaussianBlur stdDeviation="3.4"/></filter>
<rect x="389.6" y="398" width="20.4" height="52" rx="7" fill="#606060" opacity="0.95" filter="url(#gf2_4)"/>
<filter id="gf2_5" x="-100%" y="-100%" width="300%" height="300%"><feGaussianBlur stdDeviation="4.0"/></filter>
<ellipse cx="399.8" cy="420" rx="9.0" ry="12" fill="#505050" opacity="0.45" filter="url(#gf2_5)"/>
<filter id="gf2_6" x="-100%" y="-100%" width="300%" height="300%"><feGaussianBlur stdDeviation="4.0"/></filter>
<ellipse cx="399.8" cy="388" rx="9.0" ry="10" fill="#a6a6a6" opacity="0.6" filter="url(#gf2_6)"/>
<filter id="gf2_7" x="-100%" y="-100%" width="300%" height="300%"><feGaussianBlur stdDeviation="2.0"/></filter>
<rect x="386.3" y="374" width="2.6" height="68" rx="1" fill="#e2e2e2" opacity="0.7" filter="url(#gf2_7)"/>
<filter id="gf2_8" x="-100%" y="-100%" width="300%" height="300%"><feGaussianBlur stdDeviation="2.6"/></filter>
<rect x="361.4" y="436.5" width="52" height="9.0" rx="2" fill="#f2f2f2" opacity="0.85" filter="url(#gf2_8)"/>
<filter id="gf2_9" x="-100%" y="-100%" width="300%" height="300%"><feGaussianBlur stdDeviation="2.2"/></filter>
<ellipse cx="387.4" cy="437" rx="2.5" ry="6" fill="#f4f4f4" opacity="0.9" filter="url(#gf2_9)"/>
</g>
<text x="300.60" y="382.50" font-size="11.6" text-anchor="start" textLength="35.70" lengthAdjust="spacingAndGlyphs">NF-κB</text>
<line x1="346.90" y1="378.60" x2="355.30" y2="378.60" stroke="#000" stroke-width="1.8" stroke-linecap="butt"/>
<text x="300.60" y="409.20" font-size="11.6" text-anchor="start" textLength="29.52" lengthAdjust="spacingAndGlyphs">(p50)</text>
<text x="330.32" y="412.70" font-size="10.6" text-anchor="start" textLength="6.48" lengthAdjust="spacingAndGlyphs">2</text>
<line x1="346.90" y1="405.90" x2="355.30" y2="405.90" stroke="#000" stroke-width="1.8" stroke-linecap="butt"/>
<text x="321.40" y="425.00" font-size="12" text-anchor="start" textLength="14.00" lengthAdjust="spacingAndGlyphs">ns</text>
<line x1="346.90" y1="421.50" x2="355.30" y2="421.50" stroke="#000" stroke-width="1.8" stroke-linecap="butt"/>
<text x="-0.10" y="563.30" font-size="25" text-anchor="start" textLength="18.00" lengthAdjust="spacingAndGlyphs">D</text>
<text x="131.70" y="553.80" font-size="13.6" text-anchor="start" textLength="53.40" lengthAdjust="spacingAndGlyphs">HD-MyZ</text>
<line x1="59.10" y1="557.65" x2="59.10" y2="749.00" stroke="#000" stroke-width="1.9" stroke-linecap="butt"/>
<line x1="57.90" y1="748.10" x2="271.50" y2="748.10" stroke="#000" stroke-width="1.8" stroke-linecap="butt"/>
<line x1="55.80" y1="748.10" x2="58.80" y2="748.10" stroke="#000" stroke-width="1.4" stroke-linecap="butt"/>
<text x="44.30" y="752.00" font-size="12" text-anchor="start" textLength="7.00" lengthAdjust="spacingAndGlyphs">0</text>
<line x1="55.80" y1="720.65" x2="58.80" y2="720.65" stroke="#000" stroke-width="1.4" stroke-linecap="butt"/>
<text x="33.10" y="724.95" font-size="12" text-anchor="start" textLength="17.00" lengthAdjust="spacingAndGlyphs">0.5</text>
<line x1="55.80" y1="693.60" x2="58.80" y2="693.60" stroke="#000" stroke-width="1.4" stroke-linecap="butt"/>
<text x="44.30" y="697.90" font-size="12" text-anchor="start" textLength="7.00" lengthAdjust="spacingAndGlyphs">1</text>
<line x1="55.80" y1="666.55" x2="58.80" y2="666.55" stroke="#000" stroke-width="1.4" stroke-linecap="butt"/>
<text x="33.10" y="670.85" font-size="12" text-anchor="start" textLength="17.00" lengthAdjust="spacingAndGlyphs">1.5</text>
<line x1="55.80" y1="639.50" x2="58.80" y2="639.50" stroke="#000" stroke-width="1.4" stroke-linecap="butt"/>
<text x="44.30" y="643.80" font-size="12" text-anchor="start" textLength="7.00" lengthAdjust="spacingAndGlyphs">2</text>
<line x1="55.80" y1="612.45" x2="58.80" y2="612.45" stroke="#000" stroke-width="1.4" stroke-linecap="butt"/>
<text x="33.10" y="616.75" font-size="12" text-anchor="start" textLength="17.00" lengthAdjust="spacingAndGlyphs">2.5</text>
<line x1="55.80" y1="585.40" x2="58.80" y2="585.40" stroke="#000" stroke-width="1.4" stroke-linecap="butt"/>
<text x="44.30" y="589.70" font-size="12" text-anchor="start" textLength="7.00" lengthAdjust="spacingAndGlyphs">3</text>
<line x1="55.80" y1="558.35" x2="58.80" y2="558.35" stroke="#000" stroke-width="1.4" stroke-linecap="butt"/>
<text x="33.10" y="562.65" font-size="12" text-anchor="start" textLength="17.00" lengthAdjust="spacingAndGlyphs">3.5</text>
<text x="54.70" y="764.40" font-size="12" text-anchor="start" textLength="7.00" lengthAdjust="spacingAndGlyphs">0</text>
<text x="107.60" y="764.40" font-size="12" text-anchor="start" textLength="7.00" lengthAdjust="spacingAndGlyphs">5</text>
<line x1="112.10" y1="748.10" x2="112.10" y2="751.10" stroke="#000" stroke-width="1.2" stroke-linecap="butt"/>
<text x="156.70" y="764.40" font-size="12" text-anchor="start" textLength="14.40" lengthAdjust="spacingAndGlyphs">10</text>
<line x1="165.20" y1="748.10" x2="165.20" y2="751.10" stroke="#000" stroke-width="1.2" stroke-linecap="butt"/>
<text x="209.50" y="764.40" font-size="12" text-anchor="start" textLength="14.40" lengthAdjust="spacingAndGlyphs">15</text>
<line x1="218.30" y1="748.10" x2="218.30" y2="751.10" stroke="#000" stroke-width="1.2" stroke-linecap="butt"/>
<text x="262.30" y="764.40" font-size="12" text-anchor="start" textLength="14.40" lengthAdjust="spacingAndGlyphs">20</text>
<line x1="271.40" y1="748.10" x2="271.40" y2="751.10" stroke="#000" stroke-width="1.2" stroke-linecap="butt"/>
<text x="147.20" y="781.20" font-size="12.5" text-anchor="start" textLength="28.80" lengthAdjust="spacingAndGlyphs">days</text>
<g transform="translate(18.7,716.2) rotate(-90)">
<text x="0.00" y="0.00" font-size="12.8" text-anchor="start" textLength="111.00" lengthAdjust="spacingAndGlyphs">tumor volume (cm</text>
<text x="110.00" y="-8.40" font-size="10" text-anchor="start" textLength="7.40" lengthAdjust="spacingAndGlyphs">3</text>
<text x="117.20" y="0.00" font-size="12.8" text-anchor="start" textLength="4.70" lengthAdjust="spacingAndGlyphs">)</text>
</g>
<line x1="123.10" y1="729.60" x2="123.10" y2="742.80" stroke="#000" stroke-width="1.4" stroke-linecap="butt"/>
<line x1="119.60" y1="729.60" x2="126.60" y2="729.60" stroke="#000" stroke-width="1.4" stroke-linecap="butt"/>
<line x1="119.60" y1="742.80" x2="126.60" y2="742.80" stroke="#000" stroke-width="1.4" stroke-linecap="butt"/>
<line x1="186.80" y1="696.50" x2="186.80" y2="718.60" stroke="#000" stroke-width="1.4" stroke-linecap="butt"/>
<line x1="183.30" y1="696.50" x2="190.30" y2="696.50" stroke="#000" stroke-width="1.4" stroke-linecap="butt"/>
<line x1="183.30" y1="718.60" x2="190.30" y2="718.60" stroke="#000" stroke-width="1.4" stroke-linecap="butt"/>
<line x1="229.00" y1="651.20" x2="229.00" y2="683.00" stroke="#000" stroke-width="1.4" stroke-linecap="butt"/>
<line x1="225.50" y1="651.20" x2="232.50" y2="651.20" stroke="#000" stroke-width="1.4" stroke-linecap="butt"/>
<line x1="225.50" y1="683.00" x2="232.50" y2="683.00" stroke="#000" stroke-width="1.4" stroke-linecap="butt"/>
<line x1="261.50" y1="584.00" x2="261.50" y2="654.80" stroke="#000" stroke-width="1.4" stroke-linecap="butt"/>
<line x1="258.00" y1="584.00" x2="265.00" y2="584.00" stroke="#000" stroke-width="1.4" stroke-linecap="butt"/>
<line x1="258.00" y1="654.80" x2="265.00" y2="654.80" stroke="#000" stroke-width="1.4" stroke-linecap="butt"/>
<line x1="144.60" y1="736.40" x2="144.60" y2="744.80" stroke="#000" stroke-width="1.4" stroke-linecap="butt"/>
<line x1="141.10" y1="736.40" x2="148.10" y2="736.40" stroke="#000" stroke-width="1.4" stroke-linecap="butt"/>
<line x1="141.10" y1="744.80" x2="148.10" y2="744.80" stroke="#000" stroke-width="1.4" stroke-linecap="butt"/>
<line x1="186.80" y1="718.60" x2="186.80" y2="739.40" stroke="#000" stroke-width="1.4" stroke-linecap="butt"/>
<line x1="183.30" y1="718.60" x2="190.30" y2="718.60" stroke="#000" stroke-width="1.4" stroke-linecap="butt"/>
<line x1="183.30" y1="739.40" x2="190.30" y2="739.40" stroke="#000" stroke-width="1.4" stroke-linecap="butt"/>
<line x1="229.00" y1="681.40" x2="229.00" y2="727.00" stroke="#000" stroke-width="1.4" stroke-linecap="butt"/>
<line x1="225.50" y1="681.40" x2="232.50" y2="681.40" stroke="#000" stroke-width="1.4" stroke-linecap="butt"/>
<line x1="225.50" y1="727.00" x2="232.50" y2="727.00" stroke="#000" stroke-width="1.4" stroke-linecap="butt"/>
<line x1="261.50" y1="594.80" x2="261.50" y2="710.00" stroke="#000" stroke-width="1.4" stroke-linecap="butt"/>
<line x1="258.00" y1="594.80" x2="265.00" y2="594.80" stroke="#000" stroke-width="1.4" stroke-linecap="butt"/>
<line x1="258.00" y1="710.00" x2="265.00" y2="710.00" stroke="#000" stroke-width="1.4" stroke-linecap="butt"/>
<line x1="229.00" y1="687.00" x2="229.00" y2="723.60" stroke="#000" stroke-width="1.4" stroke-linecap="butt"/>
<line x1="225.50" y1="687.00" x2="232.50" y2="687.00" stroke="#000" stroke-width="1.4" stroke-linecap="butt"/>
<line x1="225.50" y1="723.60" x2="232.50" y2="723.60" stroke="#000" stroke-width="1.4" stroke-linecap="butt"/>
<line x1="261.50" y1="625.50" x2="261.50" y2="684.00" stroke="#000" stroke-width="1.4" stroke-linecap="butt"/>
<line x1="258.00" y1="625.50" x2="265.00" y2="625.50" stroke="#000" stroke-width="1.4" stroke-linecap="butt"/>
<line x1="258.00" y1="684.00" x2="265.00" y2="684.00" stroke="#000" stroke-width="1.4" stroke-linecap="butt"/>
<polyline points="123.10,735.20 144.60,728.50 186.80,709.00 229.00,666.90 261.50,625.50" fill="none" stroke="#000" stroke-width="1.8" stroke-linejoin="round"/>
<polyline points="123.10,736.20 144.60,741.20 186.80,724.20 229.00,705.80 261.50,664.60" fill="none" stroke="#000" stroke-width="1.7" stroke-linejoin="round"/>
<polyline points="123.10,735.80 144.60,740.40 186.80,727.00 229.00,694.20 261.50,646.80" fill="none" stroke="#000" stroke-width="1.7" stroke-linejoin="round"/>
<polygon points="119.80,735.20 123.10,731.60 126.40,735.20 123.10,738.80" fill="#fff" stroke="#000" stroke-width="1.2"/>
<polygon points="141.30,728.50 144.60,724.90 147.90,728.50 144.60,732.10" fill="#fff" stroke="#000" stroke-width="1.2"/>
<polygon points="183.50,709.00 186.80,705.40 190.10,709.00 186.80,712.60" fill="#fff" stroke="#000" stroke-width="1.2"/>
<polygon points="225.70,666.90 229.00,663.30 232.30,666.90 229.00,670.50" fill="#fff" stroke="#000" stroke-width="1.2"/>
<polygon points="258.20,625.50 261.50,621.90 264.80,625.50 261.50,629.10" fill="#fff" stroke="#000" stroke-width="1.2"/>
<polygon points="119.80,739.50 126.40,739.50 123.10,732.90" fill="#000"/>
<polygon points="141.30,744.50 147.90,744.50 144.60,737.90" fill="#000"/>
<polygon points="183.50,727.50 190.10,727.50 186.80,720.90" fill="#000"/>
<polygon points="225.70,709.10 232.30,709.10 229.00,702.50" fill="#000"/>
<polygon points="258.20,667.90 264.80,667.90 261.50,661.30" fill="#000"/>
<rect x="119.30" y="732.00" width="7.6" height="7.6" fill="#000"/>
<rect x="140.80" y="736.60" width="7.6" height="7.6" fill="#000"/>
<rect x="183.00" y="723.20" width="7.6" height="7.6" fill="#000"/>
<rect x="225.20" y="690.40" width="7.6" height="7.6" fill="#000"/>
<rect x="257.70" y="643.00" width="7.6" height="7.6" fill="#000"/>
<line x1="84.20" y1="595.60" x2="108.00" y2="595.60" stroke="#000" stroke-width="2.1" stroke-linecap="butt"/>
<polygon points="93.10,595.60 96.00,592.50 98.90,595.60 96.00,598.70" fill="#fff" stroke="#000" stroke-width="1.1"/>
<text x="117.00" y="600.00" font-size="12.8" text-anchor="start" textLength="41.70" lengthAdjust="spacingAndGlyphs">control</text>
<line x1="84.20" y1="610.70" x2="108.00" y2="610.70" stroke="#000" stroke-width="2.1" stroke-linecap="butt"/>
<rect x="92.20" y="606.90" width="7.6" height="7.6" fill="#000"/>
<text x="117.00" y="614.50" font-size="12.8" text-anchor="start" textLength="46.00" lengthAdjust="spacingAndGlyphs">5 mg/kg</text>
<line x1="84.20" y1="625.00" x2="108.00" y2="625.00" stroke="#000" stroke-width="2.1" stroke-linecap="butt"/>
<polygon points="92.60,627.10 99.40,627.10 96.00,621.30" fill="#000"/>
<text x="117.00" y="628.70" font-size="12.8" text-anchor="start" textLength="56.00" lengthAdjust="spacingAndGlyphs">7.5 mg/kg</text>
<text x="319.20" y="603.00" font-size="12.4" text-anchor="start" textLength="15.18" lengthAdjust="spacingAndGlyphs">As</text>
<text x="334.48" y="606.60" font-size="11.2" text-anchor="start" textLength="6.05" lengthAdjust="spacingAndGlyphs">2</text>
<text x="340.73" y="603.00" font-size="12.4" text-anchor="start" textLength="9.92" lengthAdjust="spacingAndGlyphs">O</text>
<text x="350.95" y="606.60" font-size="11.2" text-anchor="start" textLength="6.85" lengthAdjust="spacingAndGlyphs">3</text>
<text x="372.10" y="603.70" font-size="19" text-anchor="start" textLength="7.30" lengthAdjust="spacingAndGlyphs">-</text>
<text x="394.60" y="603.60" font-size="15" text-anchor="start" textLength="8.40" lengthAdjust="spacingAndGlyphs">+</text>
<clipPath id="gc3"><rect x="363.6" y="612.2" width="46.6" height="95.6"/></clipPath>
<g clip-path="url(#gc3)">
<rect x="363.6" y="612.2" width="46.6" height="95.6" fill="#e0e0e0"/>
<filter id="gf3_0" x="-100%" y="-100%" width="300%" height="300%"><feGaussianBlur stdDeviation="3.0"/></filter>
<rect x="363.5" y="615" width="47.0" height="80" rx="4" fill="#c0c0c0" opacity="0.9" filter="url(#gf3_0)"/>
<filter id="gf3_1" x="-100%" y="-100%" width="300%" height="300%"><feGaussianBlur stdDeviation="3.4"/></filter>
<rect x="365.2" y="616" width="19.6" height="72" rx="5" fill="#9a9a9a" opacity="0.75" filter="url(#gf3_1)"/>
<filter id="gf3_2" x="-100%" y="-100%" width="300%" height="300%"><feGaussianBlur stdDeviation="3.4"/></filter>
<rect x="389.4" y="616" width="19.6" height="72" rx="5" fill="#a4a4a4" opacity="0.7" filter="url(#gf3_2)"/>
<filter id="gf3_3" x="-100%" y="-100%" width="300%" height="300%"><feGaussianBlur stdDeviation="2.6"/></filter>
<ellipse cx="375.0" cy="637.2" rx="9.8" ry="3.6" fill="#464646" opacity="0.95" filter="url(#gf3_3)"/>
<filter id="gf3_4" x="-100%" y="-100%" width="300%" height="300%"><feGaussianBlur stdDeviation="2.6"/></filter>
<ellipse cx="399.2" cy="637.2" rx="9.8" ry="3.4" fill="#4c4c4c" opacity="0.95" filter="url(#gf3_4)"/>
<filter id="gf3_5" x="-100%" y="-100%" width="300%" height="300%"><feGaussianBlur stdDeviation="3.0"/></filter>
<ellipse cx="375.0" cy="646.4" rx="9.6" ry="4.2" fill="#666" opacity="0.85" filter="url(#gf3_5)"/>
<filter id="gf3_6" x="-100%" y="-100%" width="300%" height="300%"><feGaussianBlur stdDeviation="3.0"/></filter>
<ellipse cx="399.2" cy="646.4" rx="9.6" ry="4.0" fill="#707070" opacity="0.8" filter="url(#gf3_6)"/>
<filter id="gf3_7" x="-100%" y="-100%" width="300%" height="300%"><feGaussianBlur stdDeviation="2.0"/></filter>
<rect x="385.8" y="620" width="2.8" height="56" rx="1" fill="#d6d6d6" opacity="0.7" filter="url(#gf3_7)"/>
<filter id="gf3_8" x="-100%" y="-100%" width="300%" height="300%"><feGaussianBlur stdDeviation="3.0"/></filter>
<ellipse cx="375.0" cy="690.4" rx="11.6" ry="10.4" fill="#3a3a3a" opacity="1.0" filter="url(#gf3_8)"/>
<filter id="gf3_9" x="-100%" y="-100%" width="300%" height="300%"><feGaussianBlur stdDeviation="3.0"/></filter>
<ellipse cx="399.2" cy="690.4" rx="11.6" ry="10.4" fill="#3a3a3a" opacity="1.0" filter="url(#gf3_9)"/>
<filter id="gf3_10" x="-100%" y="-100%" width="300%" height="300%"><feGaussianBlur stdDeviation="3.0"/></filter>
<ellipse cx="387.2" cy="692.0" rx="9" ry="8.0" fill="#424242" opacity="0.9" filter="url(#gf3_10)"/>
<filter id="gf3_11" x="-100%" y="-100%" width="300%" height="300%"><feGaussianBlur stdDeviation="3.0"/></filter>
<ellipse cx="375.0" cy="676.0" rx="9.0" ry="5.0" fill="#777" opacity="0.5" filter="url(#gf3_11)"/>
<filter id="gf3_12" x="-100%" y="-100%" width="300%" height="300%"><feGaussianBlur stdDeviation="3.0"/></filter>
<ellipse cx="399.2" cy="676.0" rx="9.0" ry="5.0" fill="#7c7c7c" opacity="0.5" filter="url(#gf3_12)"/>
</g>
<text x="306.40" y="647.00" font-size="11.8" text-anchor="start" textLength="36.80" lengthAdjust="spacingAndGlyphs">NF-κB</text>
<polyline points="357.4,636.0 350.3,636.0 350.3,651.0 357.4,651.0" fill="none" stroke="#000" stroke-width="1.9"/>
<text x="329.60" y="694.50" font-size="12" text-anchor="start" textLength="13.60" lengthAdjust="spacingAndGlyphs">ns</text>
<line x1="349.40" y1="690.80" x2="357.00" y2="690.80" stroke="#000" stroke-width="2.0" stroke-linecap="butt"/>
</svg></body></html>
